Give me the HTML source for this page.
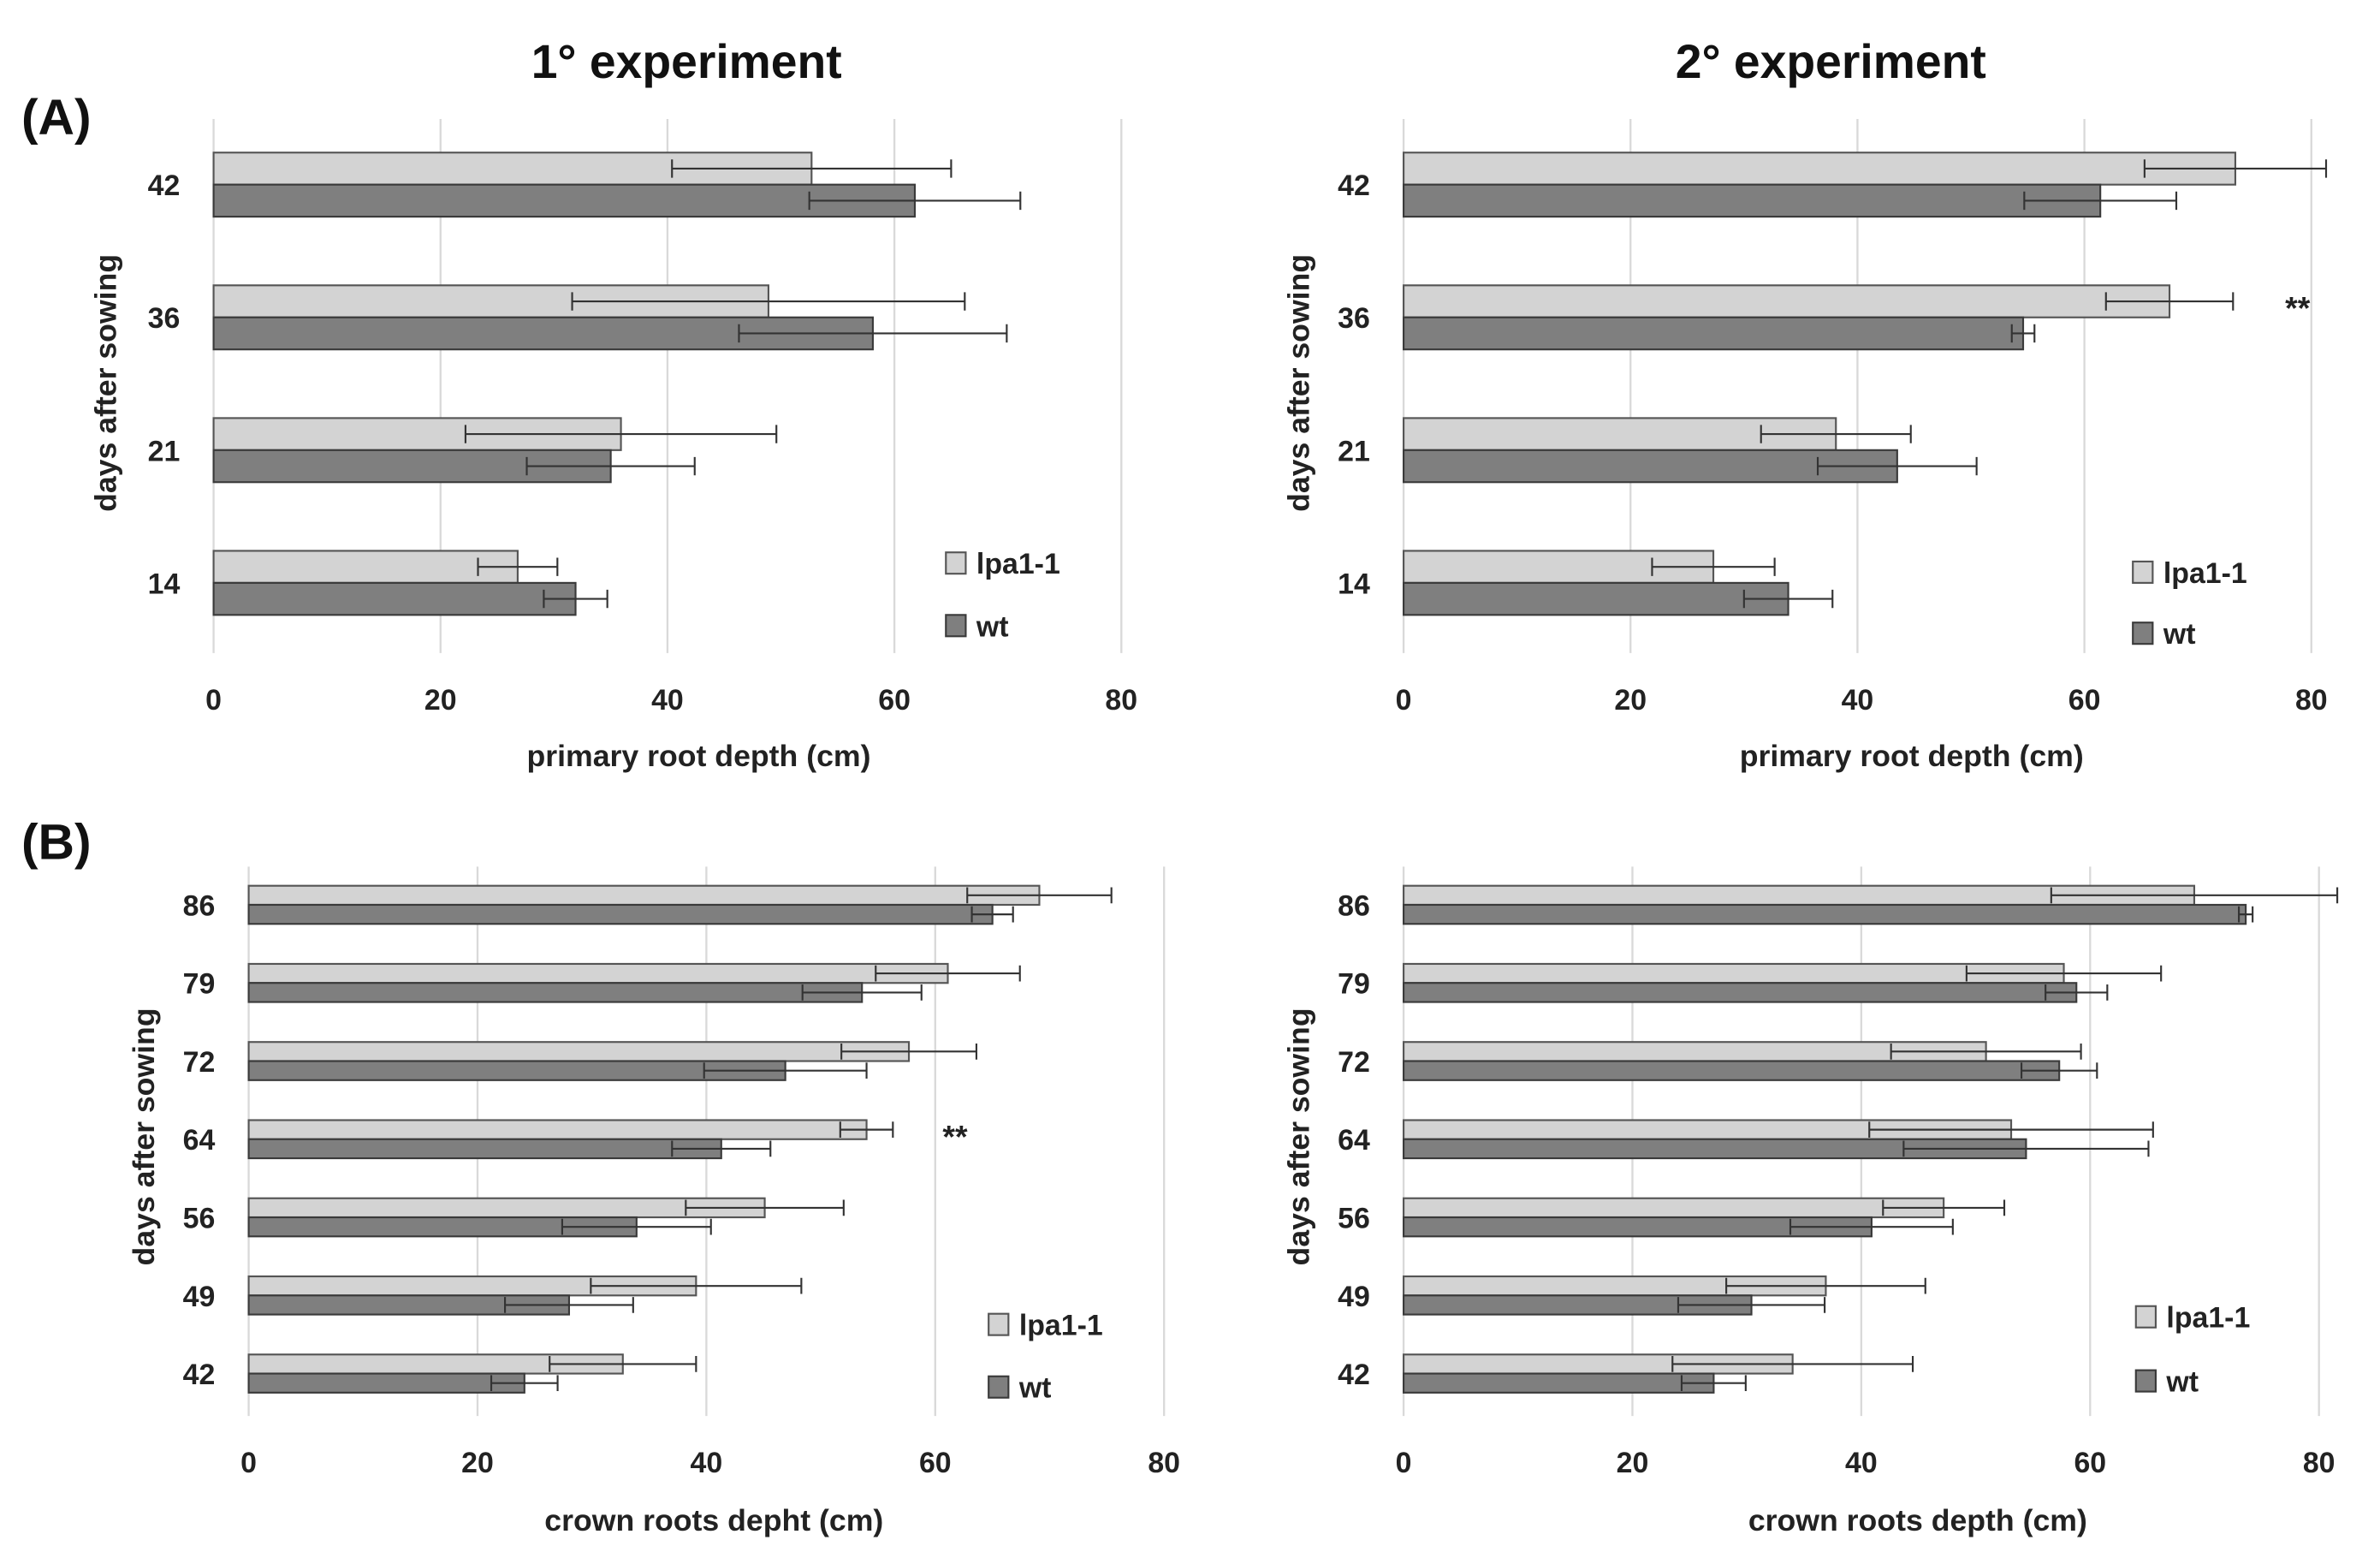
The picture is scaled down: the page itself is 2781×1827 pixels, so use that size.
<!DOCTYPE html>
<html><head><meta charset="utf-8"><style>
html,body{margin:0;padding:0;background:#fff;}
svg{display:block;font-family:"Liberation Sans",sans-serif;font-weight:bold;}
</style></head><body>
<svg id="fig" width="2781" height="1827" viewBox="0 0 1560 1025" preserveAspectRatio="none" xmlns="http://www.w3.org/2000/svg">
<text x="450" y="51" font-size="31" text-anchor="middle" fill="#111">1° experiment</text>
<text x="1200" y="51" font-size="31" text-anchor="middle" fill="#111">2° experiment</text>
<text x="14" y="88" font-size="33" fill="#111">(A)</text>
<text x="14" y="563" font-size="33" fill="#111">(B)</text>
</svg>
<script>
// Panel A1 (1° experiment, primary root)
const catsA = ["42","36","21","14"];
const a1Lpa = [52.7,48.9,35.9,26.8];
const a1LpaErr = [12.3,17.3,13.7,3.5];
const a1Wt = [61.8,58.1,35.0,31.9];
const a1WtErr = [9.3,11.8,7.4,2.8];
// Panel A2 (2° experiment, primary root)
const a2Lpa = [73.3,67.5,38.1,27.3];
const a2LpaErr = [8.0,5.6,6.6,5.4];
const a2Wt = [61.4,54.6,43.5,33.9];
const a2WtErr = [6.7,1.0,7.0,3.9];
// Panel B1 (1° experiment, crown roots)
const catsB = ["86","79","72","64","56","49","42"];
const b1Lpa = [69.1,61.1,57.7,54.0,45.1,39.1,32.7];
const b1LpaErr = [6.3,6.3,5.9,2.3,6.9,9.2,6.4];
const b1Wt = [65.0,53.6,46.9,41.3,33.9,28.0,24.1];
const b1WtErr = [1.8,5.2,7.1,4.3,6.5,5.6,2.9];
// Panel B2 (2° experiment, crown roots)
const b2Lpa = [69.1,57.7,50.9,53.1,47.2,36.9,34.0];
const b2LpaErr = [12.5,8.5,8.3,12.4,5.3,8.7,10.5];
const b2Wt = [73.6,58.8,57.3,54.4,40.9,30.4,27.1];
const b2WtErr = [0.6,2.7,3.3,10.7,7.1,6.4,2.8];
const ticks = [0,20,40,60,80];
const tickLabels = ["0","20","40","60","80"];

const NS="http://www.w3.org/2000/svg";
const svg=document.getElementById('fig');
function mk(tag,attrs,parent){const e=document.createElementNS(NS,tag);for(const k in attrs)e.setAttribute(k,attrs[k]);(parent||svg).appendChild(e);return e;}

function panel(p){
  const g=mk('g',{});
  
  
  const xs=v=>p.x0+(p.x1-p.x0)*v/80;
  ticks.forEach((t,i)=>{
    const l=mk('line',{x1:xs(t),x2:xs(t),y1:p.gy0,y2:p.gy1,stroke:'#d9d9d9','stroke-width':1.3},g);
    
    
    const tx=mk('text',{x:xs(t),y:p.tickY,'font-size':19,'text-anchor':'middle',fill:'#222'},g);
    tx.textContent=tickLabels[i];
    
    
  });
  p.cats.forEach((c,i)=>{
    const cy=p.cy0+i*p.step;
    const lab=mk('text',{x:p.labX,y:cy+7,'font-size':19,'text-anchor':'end',fill:'#222'},g);
    lab.textContent=c;
    
    
    const series=[[p.lpa,p.lpaErr,cy-p.bh,'#d3d3d3','#555','lpa1-1'],[p.wt,p.wtErr,cy,'#7f7f7f','#3a3a3a','wt']];
    series.forEach(s=>{
      const v=s[0][i],e=s[1][i],y=s[2];
      const r=mk('rect',{x:xs(0),y:y,width:xs(v)-xs(0),height:p.bh,fill:s[3],stroke:s[4],'stroke-width':1.2},g);
      
      
      const ym=y+p.bh/2, ca=Math.min(6,p.bh/2-1);
      const eb=mk('path',{d:`M${xs(v-e)},${ym}H${xs(v+e)}M${xs(v-e)},${ym-ca}V${ym+ca}M${xs(v+e)},${ym-ca}V${ym+ca}`,stroke:'#333','stroke-width':1.2,fill:'none'},g);
      
      
    });
  });
  const xt=mk('text',{x:p.xtX,y:p.xtY,'font-size':20,'text-anchor':'middle',fill:'#222'},g);
  xt.textContent=p.xTitle;
  
  
  const yt=mk('text',{x:0,y:0,'font-size':20,'text-anchor':'middle',fill:'#222',transform:`translate(${p.ytX},${p.ytY}) rotate(-90)`},g);
  yt.textContent='days after sowing';
  
  
  [['lpa1-1','#d3d3d3','#555',p.legY0],['wt','#7f7f7f','#3a3a3a',p.legY1]].forEach(L=>{
    const b=mk('rect',{x:p.legX,y:L[3]-7,width:13,height:14,fill:L[1],stroke:L[2],'stroke-width':1.2},g);
    
    
    const t=mk('text',{x:p.legX+20,y:L[3]+7,'font-size':19,fill:'#222'},g);
    t.textContent=L[0];
    
    
  });
  if(p.star){
    const st=mk('text',{x:p.star[0],y:p.star[1],'font-size':21,'text-anchor':'middle',fill:'#222'},g);
    st.textContent='**';
    
    
  }
}
panel({name:'chart-a1',cats:catsA,lpa:a1Lpa,lpaErr:a1LpaErr,wt:a1Wt,wtErr:a1WtErr,x0:140,x1:735,gy0:78,gy1:428,cy0:121,step:87,bh:21,labX:118,tickY:465,xTitle:'primary root depth (cm)',xtX:458,xtY:502,ytX:76,ytY:251,legX:620,legY0:369,legY1:410});
panel({name:'chart-a2',cats:catsA,lpa:a2Lpa,lpaErr:a2LpaErr,wt:a2Wt,wtErr:a2WtErr,x0:920,x1:1515,gy0:78,gy1:428,cy0:121,step:87,bh:21,labX:898,tickY:465,xTitle:'primary root depth (cm)',xtX:1253,xtY:502,ytX:858,ytY:251,legX:1398,legY0:375,legY1:415,star:[1506,209]});
panel({name:'chart-b1',cats:catsB,lpa:b1Lpa,lpaErr:b1LpaErr,wt:b1Wt,wtErr:b1WtErr,x0:163,x1:763,gy0:568,gy1:928,cy0:593,step:51.2,bh:12.5,labX:141,tickY:965,xTitle:'crown roots depht (cm)',xtX:468,xtY:1003,ytX:101,ytY:745,legX:648,legY0:868,legY1:909,star:[626,752]});
panel({name:'chart-b2',cats:catsB,lpa:b2Lpa,lpaErr:b2LpaErr,wt:b2Wt,wtErr:b2WtErr,x0:920,x1:1520,gy0:568,gy1:928,cy0:593,step:51.2,bh:12.5,labX:898,tickY:965,xTitle:'crown roots depth (cm)',xtX:1257,xtY:1003,ytX:858,ytY:745,legX:1400,legY0:863,legY1:905});
</script>
</body></html>
